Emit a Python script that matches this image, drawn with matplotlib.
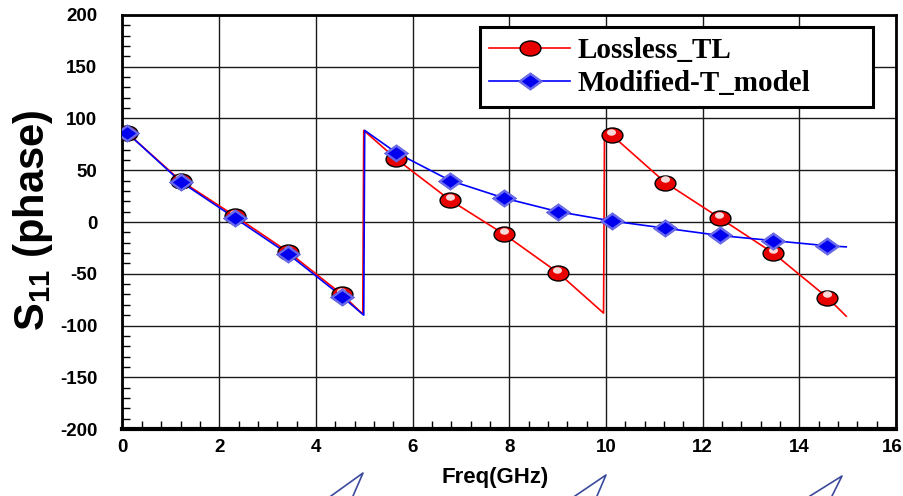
import matplotlib
matplotlib.use("Agg")
import matplotlib.pyplot as plt
import numpy as np
from matplotlib.path import Path
from matplotlib.lines import Line2D
from matplotlib.transforms import ScaledTranslation, Affine2D

# --- data ---
freq_mark = [0.1, 1.2, 2.32, 3.43, 4.54, 5.66, 6.78, 7.9, 9.01, 10.12, 11.23, 12.35, 13.46, 14.58]
lossless_mark = [86, 40, 6, -29, -70, 61, 21, -12, -49, 84, 38, 4, -30, -73]
modified_mark = [86, 39, 4, -31, -72, 67, 40, 23, 10, 1, -6, -13, -18, -23]

# corners of the phase wraps and the line ends (no markers there)
lossless_jump_f = [4.97, 4.99, 9.95, 9.97, 14.97]
lossless_jump_p = [-89, 88.5, -88, 88, -91]
modified_jump_f = [4.99, 5.01, 14.97]
modified_jump_p = [-90, 88.5, -24]

xticks = [0, 2, 4, 6, 8, 10, 12, 14, 16]
yticks = [-200, -150, -100, -50, 0, 50, 100, 150, 200]


def merge(f1, p1, f2, p2):
    f = np.array(f1 + f2)
    p = np.array(p1 + p2)
    order = np.argsort(f)
    return f[order], p[order]


tl_f, tl_p = merge(freq_mark, lossless_mark, lossless_jump_f, lossless_jump_p)
mt_f, mt_p = merge(freq_mark, modified_mark, modified_jump_f, modified_jump_p)

plt.rcParams["font.family"] = ["Liberation Sans", "DejaVu Sans"]
plt.rcParams["font.weight"] = "bold"
plt.rcParams["axes.unicode_minus"] = False
plt.rcParams["mathtext.fontset"] = "custom"
plt.rcParams["mathtext.rm"] = "Liberation Sans:bold"
plt.rcParams["mathtext.it"] = "Liberation Sans:bold"
plt.rcParams["mathtext.bf"] = "Liberation Sans:bold"

# flattened marker shapes
ellipse = Path.unit_circle().transformed(Affine2D().scale(1, 0.72))
diamond = Path([(-1, 0), (0, 0.72), (1, 0), (0, -0.72), (-1, 0)],
               [Path.MOVETO, Path.LINETO, Path.LINETO, Path.LINETO, Path.CLOSEPOLY])

fig = plt.figure(figsize=(9.04, 4.96), dpi=100)
ax = fig.add_axes([0.1355, 0.135, 0.8557, 0.8348])

# lines
red_line, = ax.plot(tl_f, tl_p, color="#ff0000", lw=1.2, zorder=3)
blue_line, = ax.plot(mt_f, mt_p, color="#0000ff", lw=1.2, zorder=3)

# red spheres
red_mk, = ax.plot(freq_mark, lossless_mark, ls="none", marker=ellipse, ms=15,
                  mfc="#e80000", mec="black", mew=1.0, zorder=4)
hl = ax.transData + ScaledTranslation(-0.5 / 72, 2.3 / 72, fig.dpi_scale_trans)
ax.plot(freq_mark, lossless_mark, ls="none", marker=ellipse, ms=6.5, mfc="white",
        mec="none", alpha=0.85, transform=hl, zorder=5)

# blue bevelled diamonds
blue_out, = ax.plot(freq_mark, modified_mark, ls="none", marker=diamond, ms=17.5,
                    mfc="#6b6bef", mec="#5a5ad8", mew=0.5, zorder=6)
blue_in, = ax.plot(freq_mark, modified_mark, ls="none", marker=diamond, ms=12.5,
                   mfc="#0000ee", mec="none", zorder=7)

ax.set_xlim(0, 16)
ax.set_ylim(-200, 200)
ax.set_xticks(xticks)
ax.set_yticks(yticks)
ax.set_xticks(np.arange(0, 16.01, 0.4), minor=True)
ax.set_yticks(np.arange(-200, 200.1, 10), minor=True)
ax.tick_params(which="major", direction="in", length=0, labelsize=13.5)
ax.tick_params(axis="y", which="major", pad=18)
ax.tick_params(axis="x", which="major", pad=7)
ax.tick_params(which="minor", direction="in", length=6, width=1, color="black")
ax.grid(True, which="major", color="#1a1a1a", lw=1.0)
for s in ["left", "top", "right"]:
    ax.spines[s].set_linewidth(2)
ax.spines["bottom"].set_linewidth(3)

# nudge the last x label so it stays inside the figure
last = ax.get_xticklabels()[-1]
last.set_transform(last.get_transform() + ScaledTranslation(-4 / 100, 0, fig.dpi_scale_trans))

ax.set_xlabel("Freq(GHz)", fontsize=16, fontweight="bold", va="center")
ax.xaxis.set_label_coords(0.482, -0.116)
ax.set_ylabel(r"S$_{11}$ (phase)", fontsize=30, fontweight="bold", va="center")
ax.yaxis.set_label_coords(-0.1156, 0.505)

leg = ax.legend([(red_line, red_mk), (blue_line, blue_out, blue_in)],
                ["Lossless_TL", "Modified-T_model"],
                loc="upper left", bbox_to_anchor=(0.4616, 0.778, 0.509, 0.193),
                mode="expand",
                prop={"family": "Liberation Serif", "weight": "bold", "size": 21},
                handlelength=2.75, handletextpad=0.28, labelspacing=0.2,
                borderpad=0.34, borderaxespad=0, fancybox=False, framealpha=1,
                edgecolor="black")
leg.get_frame().set_linewidth(2.2)
leg.set_zorder(10)

# stray line artefacts under the x axis
for tip_x, left_x, right_x, tip_y in [(363, 331, 353, 473), (606, 575, 597, 475), (842, 810, 832, 476)]:
    fig.add_artist(Line2D([left_x / 904, tip_x / 904, right_x / 904],
                          [0, 1 - tip_y / 496, 0], transform=fig.transFigure,
                          color="#3c4a9c", lw=1.2))

fig.savefig("out.png", dpi=100)
